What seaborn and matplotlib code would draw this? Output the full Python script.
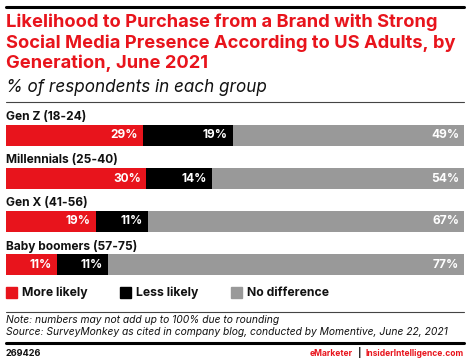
import numpy as np
import pandas as pd
import matplotlib
matplotlib.use("Agg")
import matplotlib.pyplot as plt
from matplotlib.lines import Line2D
from matplotlib.patches import Rectangle
import seaborn as sns

# ---- data ----
generations = ["Gen Z (18-24)", "Millennials (25-40)", "Gen X (41-56)", "Baby boomers (57-75)"]
more_likely = [29, 30, 19, 11]
less_likely = [19, 14, 11, 11]
no_difference = [49, 54, 67, 77]
series_names = ["More likely", "Less likely", "No difference"]

RED = "#E8141C"
BLACK = "#000000"
GRAY = "#999999"
colors = [RED, BLACK, GRAY]

sns.set_theme(style="white")
plt.rcParams["font.family"] = ["Inter", "DejaVu Sans"]

W, H = 470, 364
fig = plt.figure(figsize=(W / 100, H / 100), dpi=100)
fig.patch.set_facecolor("white")

def fx(px):
    return px / W

def fy(py):
    return 1 - py / H

# bars normalized to full width
totals = np.array(more_likely) + np.array(less_likely) + np.array(no_difference)
m = np.array(more_likely) / totals * 100
l = np.array(less_likely) / totals * 100
n = np.array(no_difference) / totals * 100
df = pd.DataFrame({"gen": generations, "c1": m, "c2": m + l, "c3": m + l + n})

ax_left, ax_right = 6, 464
ax_top, ax_bot = 100, 280
ax = fig.add_axes([fx(ax_left), fy(ax_bot), fx(ax_right - ax_left), (ax_bot - ax_top) / H])

bw = 0.49
sns.barplot(data=df, x="c3", y="gen", color=GRAY, width=bw, ax=ax, orient="h",
            saturation=1, linewidth=0, errorbar=None)
sns.barplot(data=df, x="c2", y="gen", color=BLACK, width=bw, ax=ax, orient="h",
            saturation=1, linewidth=0, errorbar=None)
sns.barplot(data=df, x="c1", y="gen", color=RED, width=bw, ax=ax, orient="h",
            saturation=1, linewidth=0, errorbar=None)

spacing = 43.0
c0 = 135.5
ax.set_xlim(0, 100)
ax.set_ylim((ax_bot - c0) / spacing, (ax_top - c0) / spacing)
ax.axis("off")

vals = [more_likely, less_likely, no_difference]
ends = [df["c1"], df["c2"], df["c3"]]
for i, g in enumerate(generations):
    ax.text(0, i - 0.43, g, ha="left", va="center", fontsize=8.6,
            fontweight="bold", color="#111111")
    for s in range(3):
        ax.annotate(f"{vals[s][i]}%", xy=(ends[s][i], i), xytext=(-3.5, 0),
                    textcoords="offset points", ha="right", va="center",
                    fontsize=8.6, fontweight="bold", color="white")

# ---- title / subtitle ----
fig.add_artist(Line2D([fx(6), fx(464)], [fy(6.5), fy(6.5)], color="black", lw=2.2))
title = "Likelihood to Purchase from a Brand with Strong\nSocial Media Presence According to US Adults, by\nGeneration, June 2021"
fig.text(fx(6), fy(13.5), title, ha="left", va="top", fontsize=13.2, fontweight="bold",
         color=RED, linespacing=1.24)
fig.text(fx(6), fy(87), "% of respondents in each group", ha="left", va="center",
         fontsize=12.3, fontstyle="italic", color="#111111")
fig.add_artist(Line2D([fx(6), fx(464)], [fy(102), fy(102)], color="#444444", lw=0.8))

# ---- legend ----
leg_x = [6, 120, 231]
for k, name in enumerate(series_names):
    fig.add_artist(Rectangle((fx(leg_x[k]), fy(298)), fx(11), 11 / H, color=colors[k],
                             transform=fig.transFigure))
    fig.text(fx(leg_x[k] + 16), fy(293), name, ha="left", va="center", fontsize=8.8,
             fontweight="bold", color="#111111")

# ---- notes ----
fig.add_artist(Line2D([fx(6), fx(464)], [fy(311.5), fy(311.5)], color="#444444", lw=0.8))
fig.text(fx(6), fy(320), "Note: numbers may not add up to 100% due to rounding",
         ha="left", va="center", fontsize=7.4, fontstyle="italic", color="#111111")
fig.text(fx(6), fy(332), "Source: SurveyMonkey as cited in company blog, conducted by Momentive, June 22, 2021",
         ha="left", va="center", fontsize=7.4, fontstyle="italic", color="#111111")
fig.add_artist(Line2D([fx(6), fx(464)], [fy(342.5), fy(342.5)], color="black", lw=2.2))
fig.text(fx(6), fy(353), "269426", ha="left", va="center", fontsize=6.6,
         fontweight="bold", color="#111111")
t3 = fig.text(fx(464), fy(353), "InsiderIntelligence.com", ha="right", va="center",
              fontsize=6.1, fontweight="bold", color=RED)
fig.canvas.draw()
bb = t3.get_window_extent()
x_bar = bb.x0 - 6
fig.text(x_bar / fig.bbox.width, fy(353), "|", ha="center", va="center",
         fontsize=6.6, fontweight="bold", color="#111111")
fig.text((x_bar - 7) / fig.bbox.width, fy(353), "eMarketer", ha="right", va="center",
         fontsize=6.1, fontweight="bold", color=RED)

fig.savefig("out.png", dpi=100, facecolor="white")
